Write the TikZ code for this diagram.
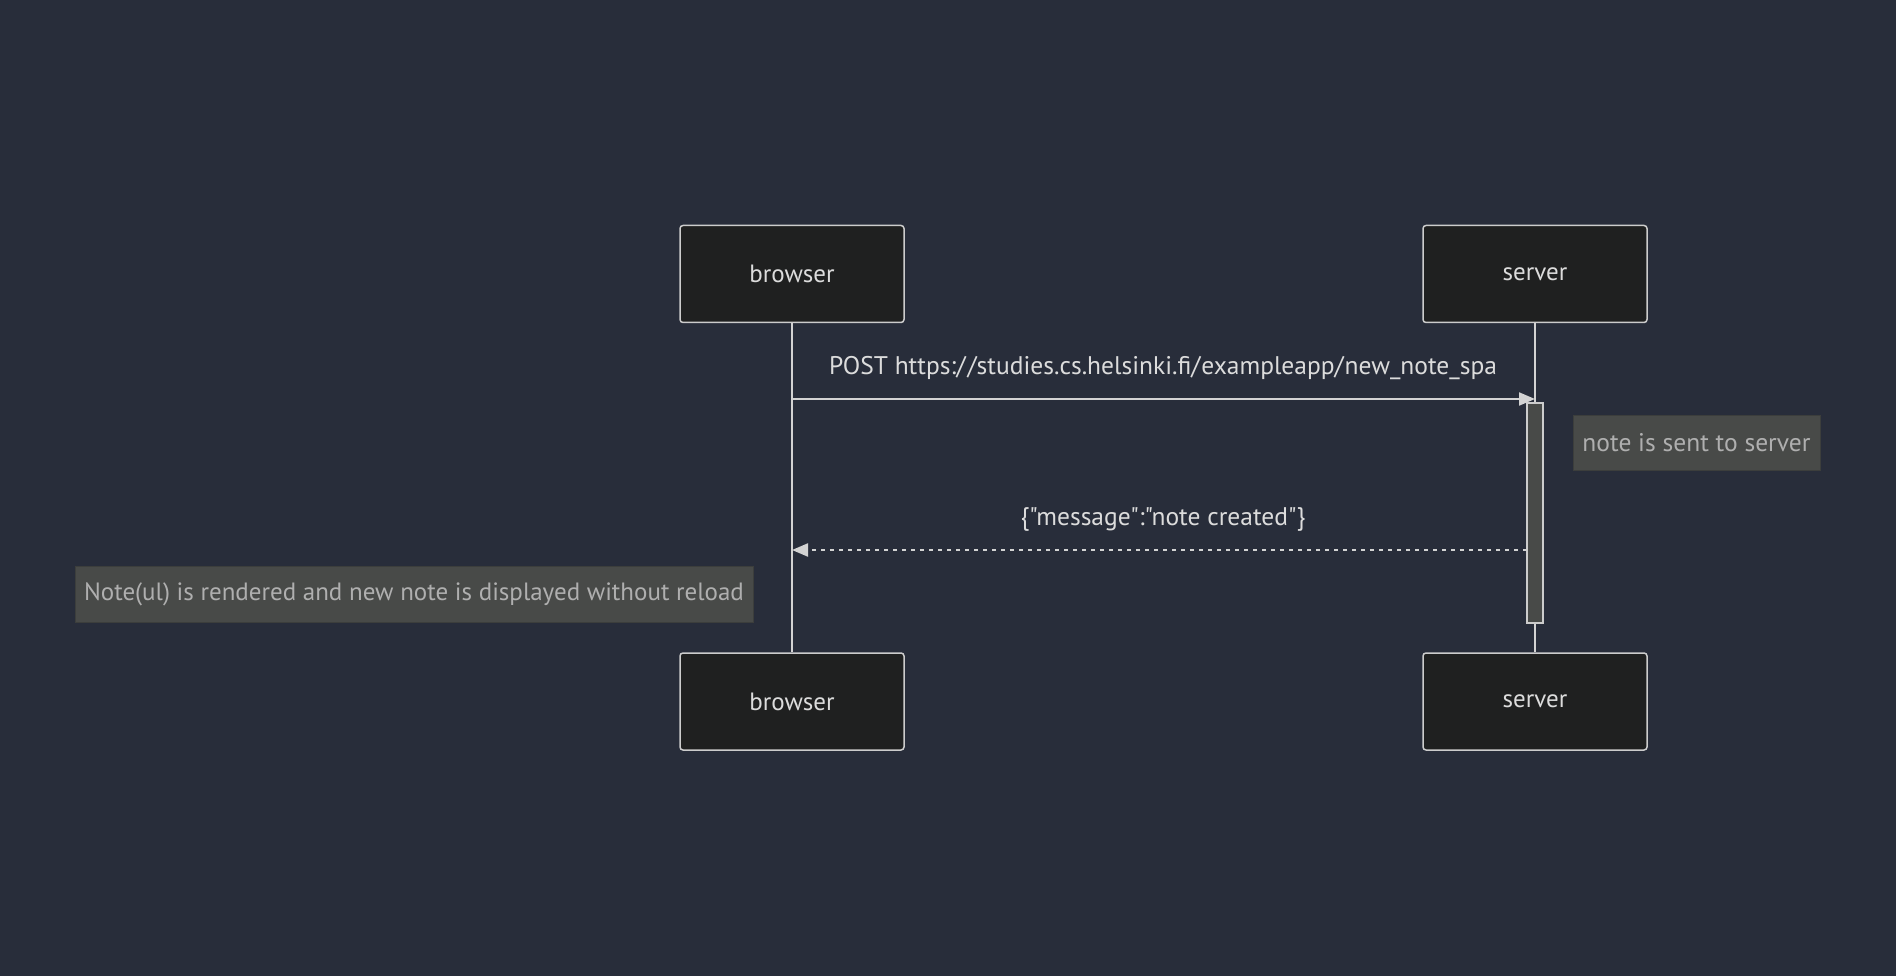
\documentclass[tikz,border=0pt]{standalone}
\usepackage{fontspec}
\setmainfont{PT Sans}[Ligatures=TeXOff]
\usetikzlibrary{arrows.meta}
\definecolor{bg}{RGB}{40,45,58}
\definecolor{actorfill}{RGB}{31,32,32}
\definecolor{actorline}{RGB}{204,204,204}
\definecolor{txt}{RGB}{220,220,220}
\definecolor{notefill}{RGB}{72,74,72}
\definecolor{noteline}{RGB}{60,62,60}
\definecolor{notetxt}{RGB}{175,175,175}
\definecolor{linec}{RGB}{211,211,211}
\tikzset{
  actor/.style={draw=actorline, fill=actorfill, line width=1.5pt, rounded corners=3pt,
    minimum width=224pt, minimum height=97pt, inner sep=0pt, text=txt,
    font=\fontsize{25}{29}\selectfont},
  life/.style={draw=linec, line width=2.2pt},
  act/.style={draw=actorline, fill=notefill, line width=1.5pt, minimum width=16pt,
    minimum height=220pt, inner sep=0pt},
  msg/.style={draw=linec, line width=2.2pt, -{Triangle[length=16pt,width=13pt]}},
  msglabel/.style={text=txt, font=\fontsize{25.5}{29}\selectfont, inner sep=0pt},
  notebox/.style={draw=noteline, fill=notefill, line width=1pt, text=notetxt,
    font=\fontsize{25.5}{29}\selectfont, inner sep=0pt},
}
\begin{document}
\begin{tikzpicture}[x=1pt,y=-1pt]
\fill[bg] (0,0) rectangle (1896,976);
\useasboundingbox (0,0) rectangle (1896,976);
\node[actor] (bt) at (792,274) {browser};
\node[actor] (st) at (1535,274) {server};
\node[actor] (bb) at (792,701.5) {browser};
\node[actor] (sb) at (1535,701.5) {server};
\draw[life] (bt.south) -- (bb.north);
\draw[life] (st.south) -- (sb.north);
\node[act] (ac) at (1535,513) {};
\coordinate (p1) at (792,399);
\coordinate (p2) at (1535,399);
\coordinate (r1) at (1527,550);
\coordinate (r2) at (792,550);
\draw[msg] (p1) -- (p2);
\node[msglabel] (l1) at (1163,368) {POST https:/\kern2pt/studies.cs.helsinki.fi/\kern1pt exampleapp/\kern1pt new\_note\_spa};
\draw[msg, dash pattern=on 4.5pt off 4.5pt] (r1) -- (r2);
\node[msglabel] (l2) at (1163,519) {\{"message":"note created"\}};
\node[notebox, minimum width=247pt, minimum height=55pt] (n1) at (1696.5,443) {note is sent to server};
\node[notebox, minimum width=678pt, minimum height=56pt, font=\fontsize{25}{29}\selectfont] (n2) at (414,594) {Note(ul) is rendered and new note is displayed without reload};
\end{tikzpicture}
\end{document}
